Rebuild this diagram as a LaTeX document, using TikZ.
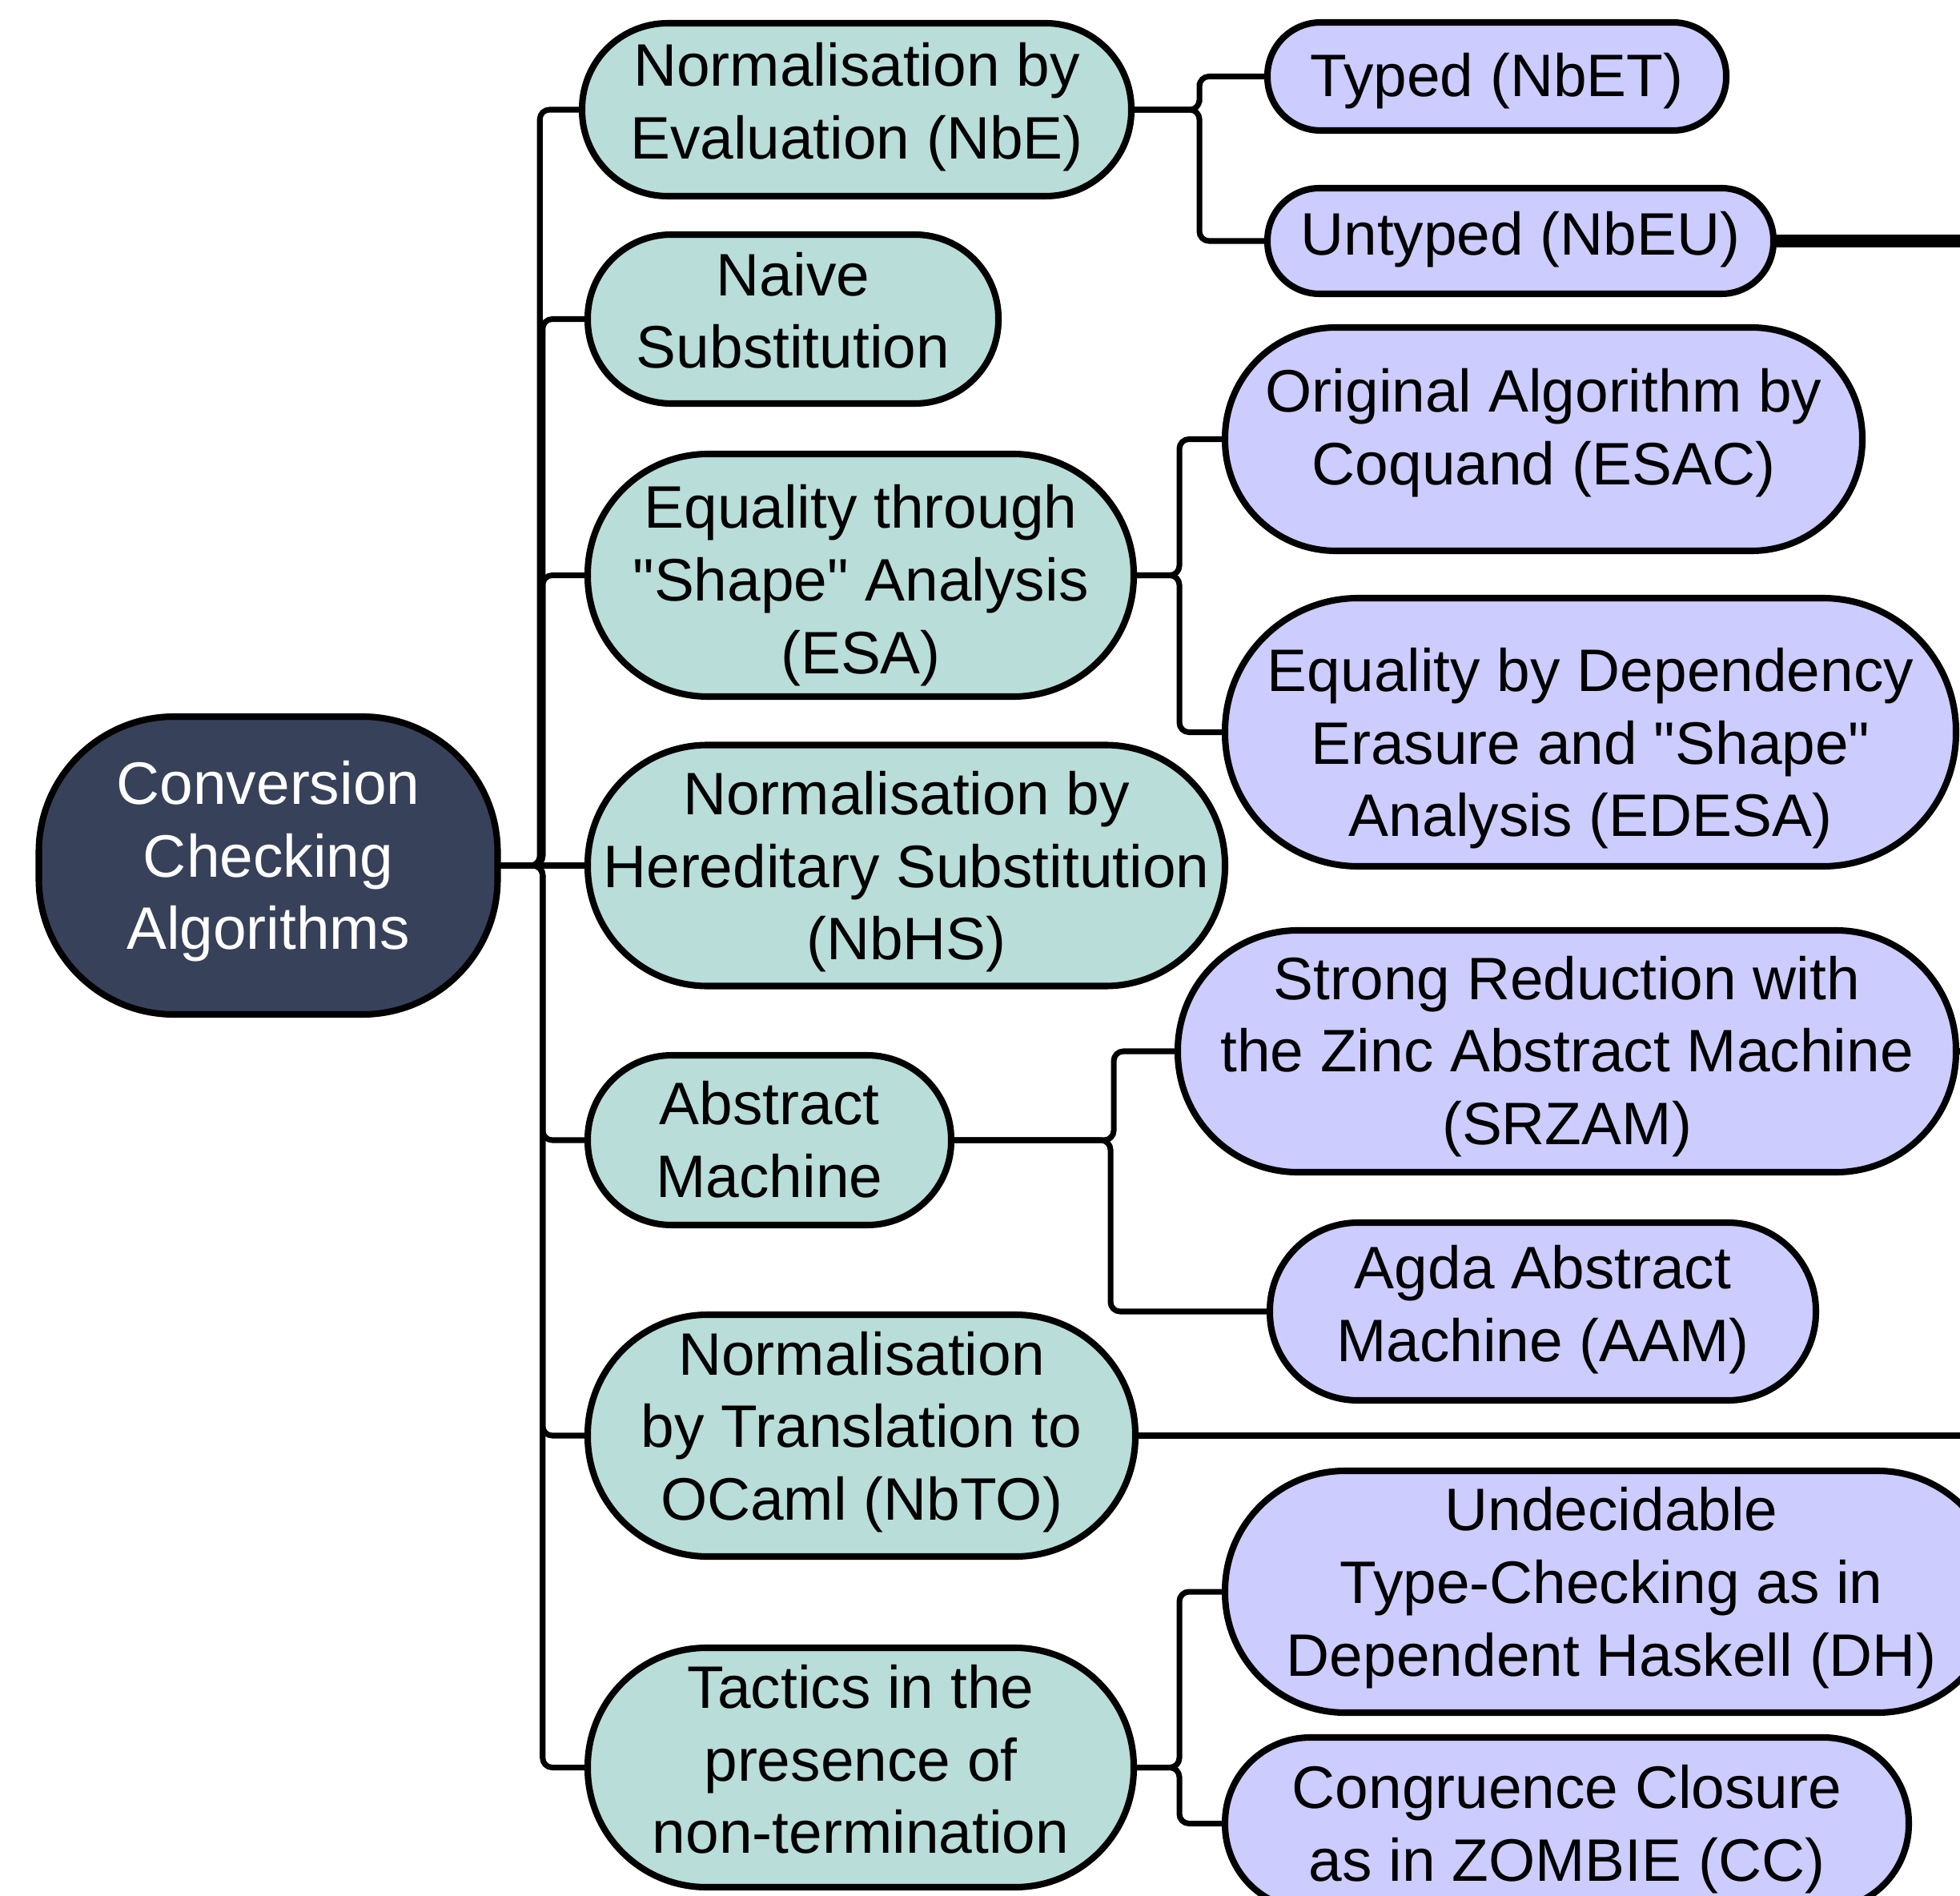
\documentclass[tikz,border=0pt]{standalone}
\usepackage{fontspec}
\setmainfont{Liberation Sans}
\usepackage{tikz}
\usetikzlibrary{calc}
\pgfdeclarelayer{nodelayer}
\pgfdeclarelayer{edgelayer}
\pgfsetlayers{edgelayer,nodelayer,main}
\definecolor{hubfill}{HTML}{37415A}
\definecolor{topicfill}{HTML}{B9DDD9}
\definecolor{leaffill}{HTML}{CCCCFF}
\tikzset{pill/.style 2 args={draw, line width=2.3pt, shape=rectangle, inner sep=0pt, align=center,
minimum width=#1cm, minimum height=#2cm, rounded corners=#2*0.5cm-0.3pt,
font=\fontsize{21.3}{25.8}\selectfont}}
\tikzset{hub/.style={fill=hubfill, text=white}}
\tikzset{topic/.style={fill=topicfill}}
\tikzset{leaf/.style={fill=leaffill}}
\tikzset{link/.style={line width=2pt, rounded corners=0.12cm}}
\tikzset{elbow/.style={link, to path={-| ($(\tikztostart)!.5!(\tikztotarget)$) |- (\tikztotarget)}}}
\tikzset{offpage/.style={link, line width=4.5pt}}

\begin{document}
\begin{tikzpicture}
	\useasboundingbox (0, 0) rectangle (24.48, -23.68);
	\begin{pgfonlayer}{nodelayer}
		\node [pill={5.73}{3.72}, hub, rounded corners=1.69cm, text depth=7.4pt] (root) at (3.35, -10.81) {Conversion\\Checking\\Algorithms};
		\node [pill={6.86}{2.16}, topic, text depth=6.4pt] (nbe) at (10.70, -1.37) {Normalisation by\\Evaluation (NbE)};
		\node [pill={5.13}{2.11}, topic, text depth=6.4pt] (naive) at (9.905, -3.985) {Naive\\Substitution};
		\node [pill={6.82}{3.03}, topic, text height=69.8pt, text depth=0pt] (esa) at (10.75, -7.185) {Equality through\\\textquotedbl Shape\textquotedbl{} Analysis\\(ESA)};
		\node [pill={7.96}{3.01}, topic, text depth=-0.2pt] (nbhs) at (11.32, -10.81) {Normalisation by\\Hereditary Substitution\\(NbHS)};
		\node [pill={4.54}{2.12}, topic, text depth=0.7pt] (am) at (9.61, -14.24) {Abstract\\Machine};
		\node [pill={6.84}{3.02}, topic, text depth=7pt] (nbto) at (10.76, -17.93) {Normalisation\\by Translation to\\OCaml (NbTO)};
		\node [pill={6.82}{2.99}, topic, text depth=5.9pt] (tactics) at (10.75, -22.075) {Tactics in the\\presence of\\non-termination};
		\node [pill={5.73}{1.35}, leaf, text depth=1pt] (typed) at (18.695, -0.955) {Typed (NbET)};
		\node [pill={6.32}{1.32}, leaf, text depth=5.4pt] (untyped) at (18.99, -3.01) {Untyped (NbEU)};
		\node [pill={7.96}{2.79}, leaf, text depth=8.8pt] (esac) at (19.28, -5.485) {Original Algorithm by\\Coquand (ESAC)};
		\node [pill={9.13}{3.35}, leaf, text height=74.2pt, text depth=0pt] (edesa) at (19.865, -9.145) {Equality by Dependency\\Erasure and \textquotedbl Shape\textquotedbl\\Analysis (EDESA)};
		\node [pill={9.72}{3.02}, leaf, text depth=0.7pt] (srzam) at (19.57, -13.13) {Strong Reduction with\\the Zinc Abstract Machine\\(SRZAM)};
		\node [pill={6.82}{2.22}, leaf, text depth=5.6pt] (aam) at (19.27, -16.38) {Agda Abstract\\Machine (AAM)};
		\node [pill={9.65}{3.02}, leaf, text depth=7.2pt] (dh) at (20.125, -19.88) {Undecidable\\Type-Checking as in\\Dependent Haskell (DH)};
		\node [pill={8.54}{2.15}, leaf, text depth=0.3pt] (cc) at (19.57, -22.775) {Congruence Closure\\as in ZOMBIE (CC)};
		\coordinate (nbeuout) at (24.7, -3.01);
		\coordinate (srzamout) at (24.7, -13.13);
		\coordinate (nbtoout) at (24.7, -17.93);
	\end{pgfonlayer}
	\begin{pgfonlayer}{edgelayer}
		\draw [elbow] (root.east) to (nbe.west);
		\draw [elbow] (root.east) to (naive.west);
		\draw [elbow] (root.east) to (esa.west);
		\draw [link] (root.east) to (nbhs.west);
		\draw [elbow] (root.east) to (am.west);
		\draw [elbow] (root.east) to (nbto.west);
		\draw [elbow] (root.east) to (tactics.west);
		\draw [elbow] (nbe.east) to (typed.west);
		\draw [elbow] (nbe.east) to (untyped.west);
		\draw [elbow] (esa.east) to (esac.west);
		\draw [elbow] (esa.east) to (edesa.west);
		\draw [link] (am.east) -- ++(1.99, 0) |- (srzam.west);
		\draw [elbow] (am.east) to (aam.west);
		\draw [elbow] (tactics.east) to (dh.west);
		\draw [elbow] (tactics.east) to (cc.west);
		\draw [offpage] (untyped.east) to (nbeuout);
		\draw [link] (srzam.east) to (srzamout);
		\draw [link] (nbto.east) to (nbtoout);
	\end{pgfonlayer}
\end{tikzpicture}
\end{document}
